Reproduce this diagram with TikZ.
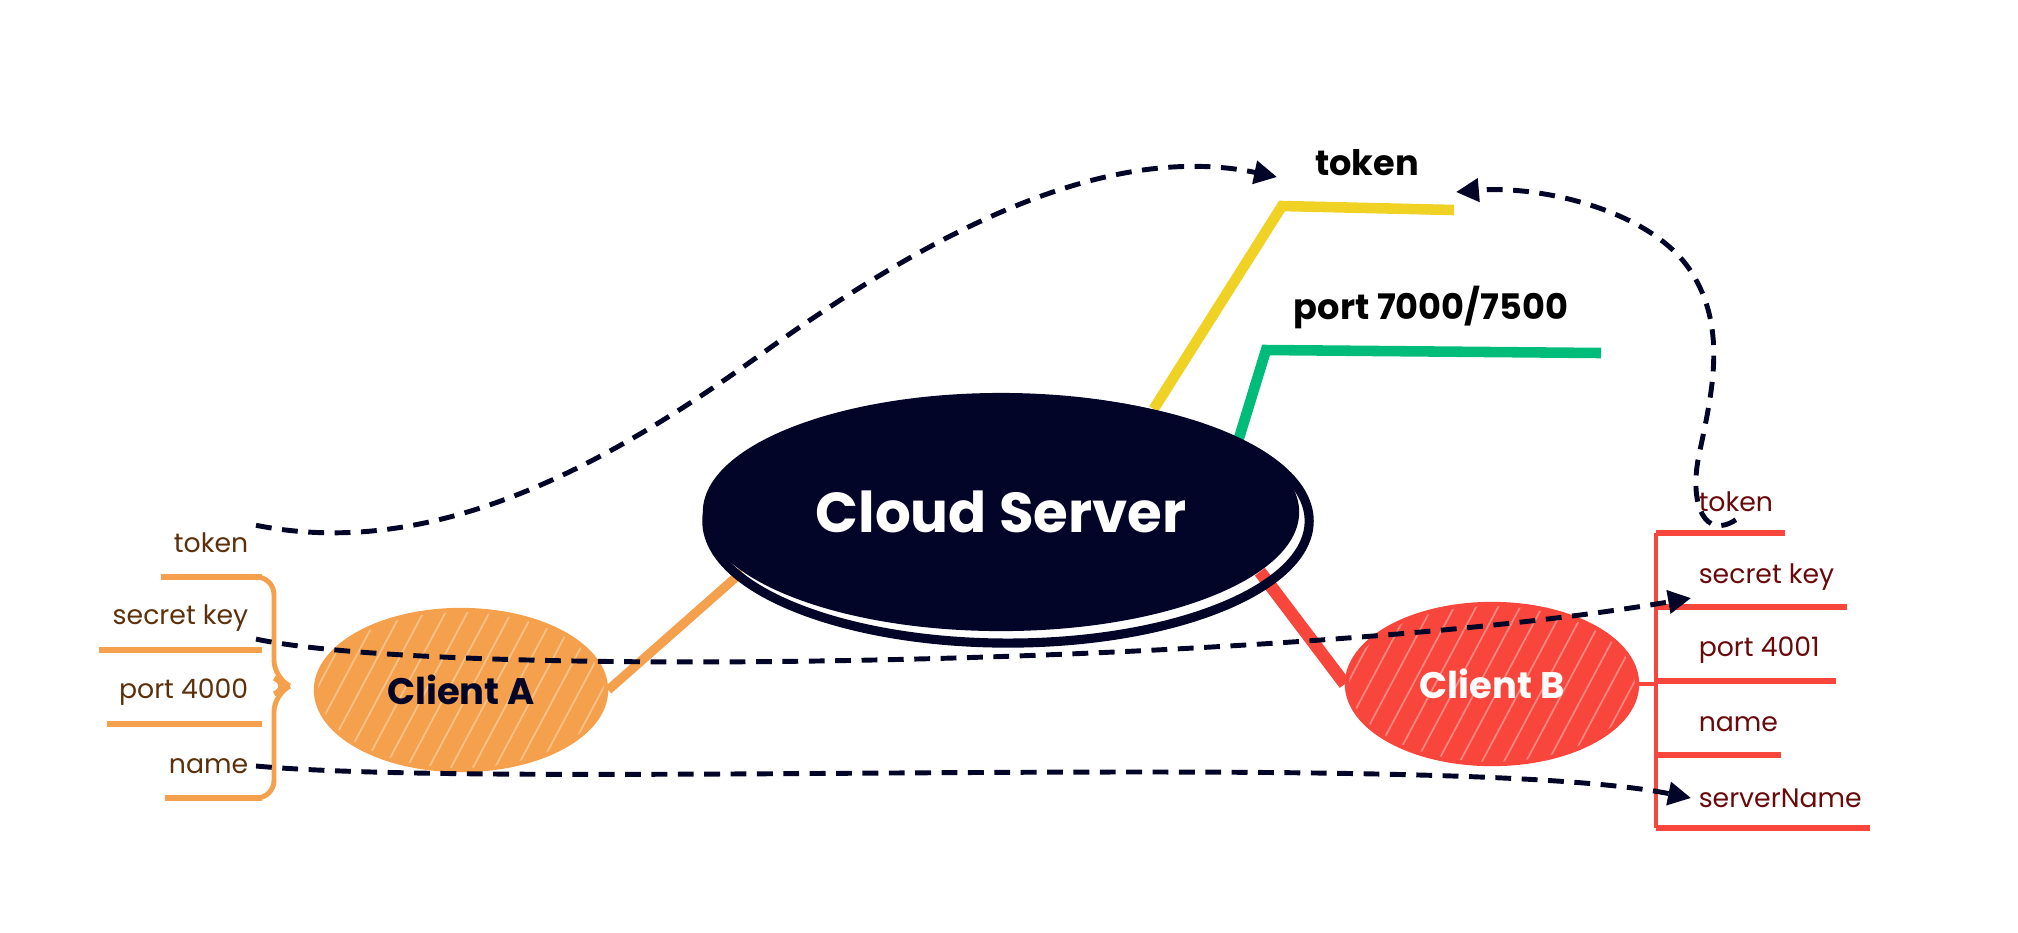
\documentclass[tikz,border=0pt]{standalone}
\usepackage{fontspec}
\setmainfont{Poppins}
\definecolor{navy}{RGB}{2,4,40}
\definecolor{clientorange}{RGB}{245,160,76}
\definecolor{clientred}{RGB}{248,70,60}
\definecolor{tokenyellow}{RGB}{240,210,36}
\definecolor{portgreen}{RGB}{0,188,122}
\definecolor{browntext}{RGB}{92,48,10}
\definecolor{redtext}{RGB}{105,10,10}
\usetikzlibrary{calc, positioning, arrows.meta, shapes.geometric, backgrounds}

\begin{document}
\begin{tikzpicture}[x=0.01cm, y=-0.01cm,
    server/.style={ellipse, fill=navy, inner sep=0pt, minimum width=5.96cm,
      minimum height=2.38cm, text=white, font=\fontsize{16}{18}\selectfont\bfseries},
    client/.style={ellipse, inner sep=0pt, minimum width=2.9cm, minimum height=1.6cm,
      line width=1.2pt, font=\fontsize{10.5}{12}\selectfont\bfseries,
      path picture={\foreach \k in {-11,...,7}
        \draw[white, opacity=.35, line width=.5pt]
          ($(path picture bounding box.south)+(\k*22,20)$) -- ++(62:2.2cm);}},
    itemA/.style={text=browntext, inner sep=2pt, font=\fontsize{7.6}{9}\selectfont, anchor=east},
    itemB/.style={text=redtext, inner sep=2pt, font=\fontsize{7.6}{9}\selectfont, anchor=west},
    srvlabel/.style={font=\fontsize{10}{12}\selectfont\bfseries, inner sep=2pt},
    link/.style={navy, line width=1.4pt, dash pattern=on 4.5pt off 3pt,
      -{Triangle[length=6.5pt, width=6.5pt]}},
    ulineA/.style={clientorange, line width=1.8pt},
    ulineB/.style={clientred, line width=1.5pt},
  ]
  \useasboundingbox (0,0) rectangle (2018,932);

  % server and clients
  \node[server] (cloud) at (1001,512) {Cloud Server};
  \draw[navy, line width=2.6pt] ($(cloud.center)+(7,9)$) ellipse [x radius=3.01cm, y radius=1.22cm];
  \node[client, fill=clientorange, draw=clientorange, text=navy] (clientA) at (461,690) {Client A};
  \node[client, fill=clientred, draw=clientred, text=white] (clientB) at (1492,684) {Client B};

  % server side
  \node[srvlabel] (srvtok) at (1367,163) {token};
  \node[srvlabel] (srvport) at (1431,307) {port 7000/7500};
  \coordinate (tokbend) at (1282,206);
  \coordinate (tokend) at (1454,210);
  \coordinate (portbend) at (1266,350);
  \coordinate (portend) at (1601,353);
  \coordinate (tokinA) at (1277,177);
  \coordinate (tokinB) at (1456,192);

  \begin{scope}[on background layer]
    \draw[tokenyellow, line width=3pt] (cloud.34) -- (tokbend) -- (tokend);
    \draw[portgreen, line width=3pt] (cloud.17) -- (portbend) -- (portend);
    \draw[clientorange, line width=2.6pt] (clientA.east) -- (cloud.193);
    \draw[clientred, line width=3.6pt] (clientB.west) -- (cloud.347);
  \end{scope}

  % client A fields
  \node[itemA] (aTok) at (256,543) {token};
  \node[itemA] (aSec) at (256,618) {secret key};
  \node[itemA] (aPort) at (256,692) {port 4000};
  \node[itemA] (aName) at (256,766) {name};
  \foreach \s/\y in {161/577, 99/650, 107/724, 165/798}
    \draw[ulineA] (\s,\y) -- (262,\y);
  \draw[ulineA, line width=1.4pt, rounded corners=5pt] (262,577) -| (274,678) -- (290,686) -- (274,694) |- (262,798);

  % client B fields
  \node[itemB] (bTok) at (1691,502) {token};
  \node[itemB] (bSec) at (1691,577) {secret key};
  \node[itemB] (bPort) at (1691,650) {port 4001};
  \node[itemB] (bName) at (1691,724) {name};
  \node[itemB] (bSrv) at (1691,798) {serverName};
  \coordinate (bTop) at (1656,533);
  \coordinate (bBot) at (1656,828);
  \draw[ulineB, line width=1.2pt] (bTop) -- (bBot);
  \draw[ulineB, line width=1.2pt] (clientB.east) -- (clientB.east -| bTop);
  \foreach \y/\e in {533/1785, 607/1847, 681/1836, 755/1781, 828/1870}
    \draw[ulineB] (1656,\y) -- (\e,\y);

  % shared values
  \draw[link] (aTok.north east) .. controls (430,560) and (600,470) .. (760,355)
    .. controls (920,240) and (1100,140) .. (tokinA);
  \draw[link] (bTok.south) .. controls (1705,540) and (1690,505) .. (1698,460)
    .. controls (1710,400) and (1730,330) .. (1690,270)
    .. controls (1650,210) and (1540,185) .. (tokinB);
  \draw[link] (aSec.south east) .. controls (450,680) and (1300,665) .. (bSec.south west);
  \draw[link] (aName.east) .. controls (520,790) and (1450,750) .. (bSrv.west);
\end{tikzpicture}
\end{document}
